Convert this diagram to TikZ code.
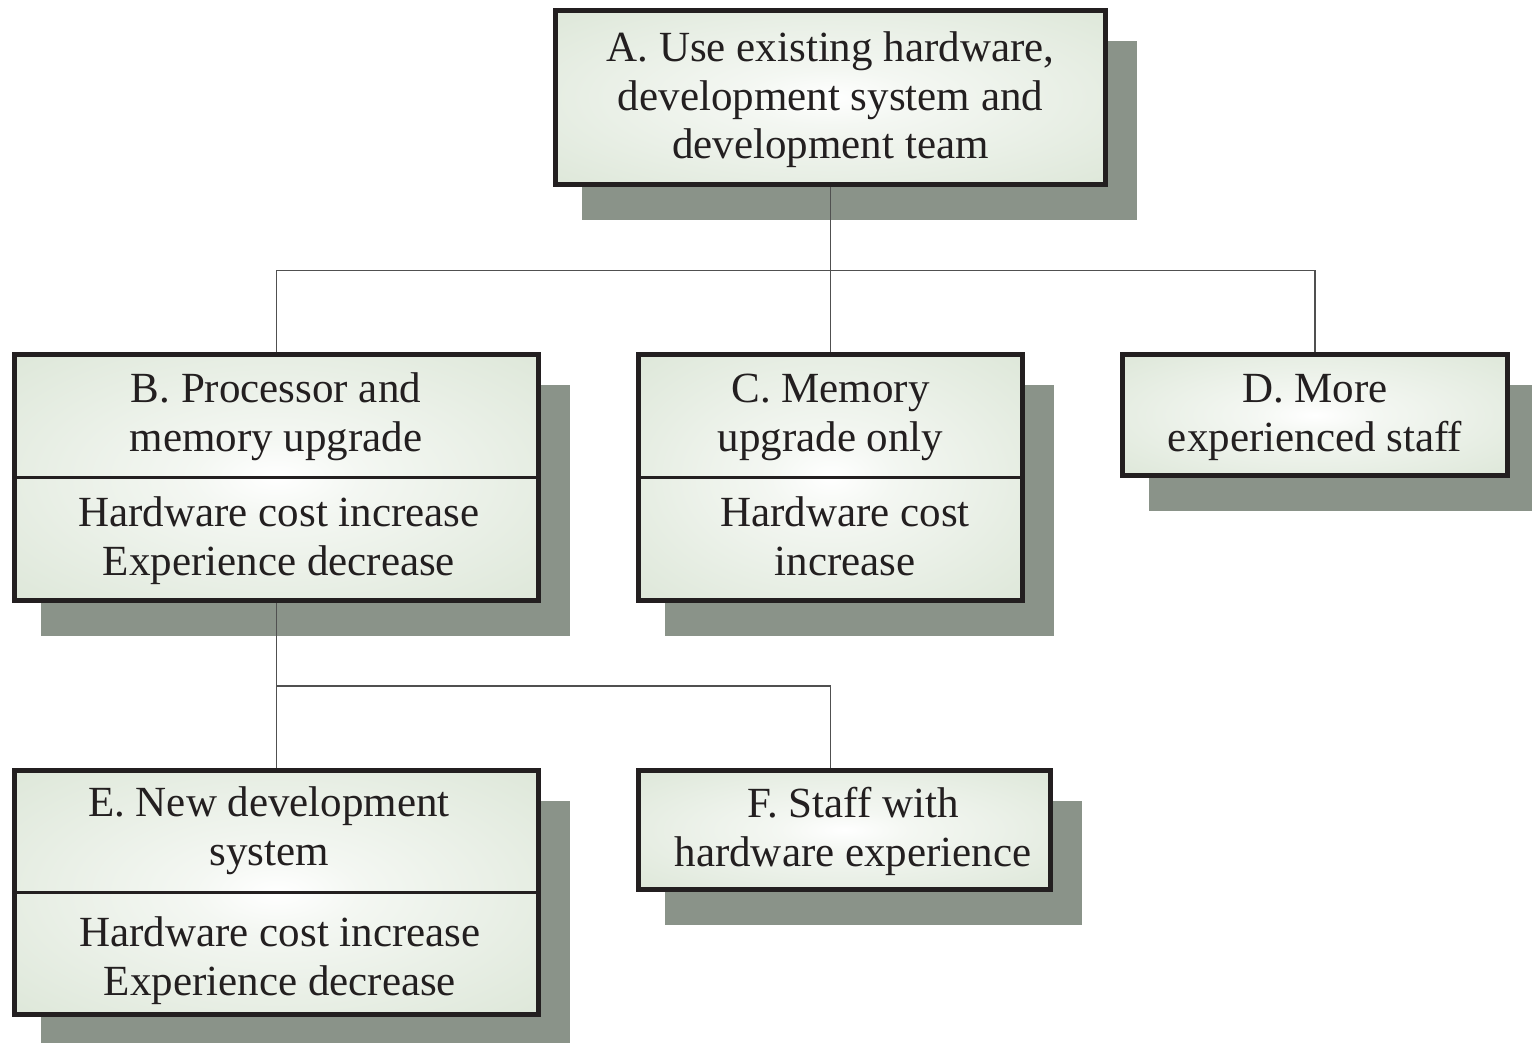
\documentclass[tikz,border=0pt]{standalone}
\usepackage{fontspec}
\setmainfont{Liberation Serif}
\usetikzlibrary{shadows}

\definecolor{boxgreen}{RGB}{210,223,204}
\definecolor{shadowgrey}{RGB}{138,147,137}
\definecolor{inkblack}{RGB}{35,31,32}
\definecolor{linkgrey}{RGB}{80,80,80}
\pgfdeclareradialshading{boxglow}{\pgfpoint{0bp}{0bp}}{color(0bp)=(white); color(8bp)=(white!75!boxgreen); color(50bp)=(boxgreen); color(72bp)=(boxgreen)}

\tikzset{
  box/.style={draw=inkblack, line width=5pt, shade, shading=boxglow, inner sep=0pt,
    drop shadow={shadow xshift=29pt, shadow yshift=-33pt, fill=shadowgrey, draw=shadowgrey, opacity=1}},
  txt/.style={font=\fontsize{43}{48.5}\selectfont, text=inkblack, align=center, anchor=base, inner sep=0pt},
  divider/.style={draw=inkblack, line width=3pt},
  link/.style={draw=linkgrey, line width=1.5pt},
}

\begin{document}
\begin{tikzpicture}[x=1pt,y=-1pt]
    \useasboundingbox (0,0) rectangle (1532,1043);
    % boxes
    \node[box, minimum width=550pt, minimum height=174pt] (a) at (830.5,97.5) {};
    \node[box, minimum width=524pt, minimum height=246pt] (b) at (276.5,477.5) {};
    \node[box, minimum width=384pt, minimum height=246pt] (c) at (830.5,477.5) {};
    \node[box, minimum width=385pt, minimum height=121pt] (d) at (1315,415) {};
    \node[box, minimum width=524pt, minimum height=244pt] (e) at (276.5,892.5) {};
    \node[box, minimum width=412pt, minimum height=119pt] (f) at (844.5,830) {};
    \draw[divider] (b.west) -- (b.east);
    \draw[divider] (c.west) -- (c.east);
    \draw[divider] (e.west) -- (e.east);
    % texts (base = last line)
    \node[txt] (atext) at (830.5,159) {A. Use existing hardware,\\development system and\\development team};
    \node[txt] (btop) at (276,451) {B. Processor and\\memory upgrade};
    \node[txt] (bbot) at (279,575) {Hardware cost increase\\Experience decrease};
    \node[txt] (ctop) at (830.5,451) {C. Memory\\upgrade only};
    \node[txt] (cbot) at (845,575) {Hardware cost\\increase};
    \node[txt] (dtext) at (1315,451) {D. More\\experienced staff};
    \node[txt] (etop) at (269,865) {E. New development\\system};
    \node[txt] (ebot) at (280,995) {Hardware cost increase\\Experience decrease};
    \node[txt] (ftext) at (853,866) {F. Staff with\\hardware experience};
    % connectors
    \coordinate (ajoin) at (830.5,270.5);
    \coordinate (bjoin) at (276.5,686);
    \draw[link] (a.south) -- (ajoin);
    \draw[link] (b.north) |- (ajoin) -| (d.north);
    \draw[link] (ajoin) -- (c.north);
    \draw[link] (b.south) -- (e.north);
    \draw[link] (bjoin) -| ([xshift=-14pt]f.north);
\end{tikzpicture}
\end{document}
